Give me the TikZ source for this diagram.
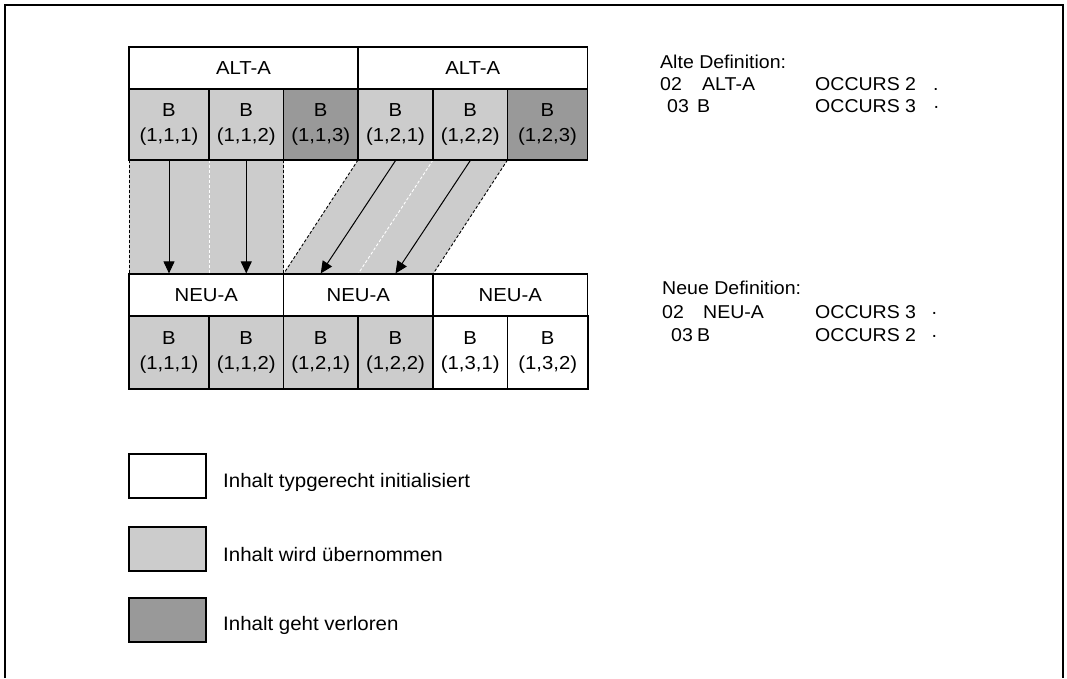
\documentclass[tikz,border=0pt]{standalone}
\usepackage{fontspec}
\setmainfont[FakeStretch=1.05]{Liberation Sans}
\newfontfamily\tabfont[FakeStretch=1.08]{Liberation Sans}
\usetikzlibrary{arrows.meta}
\definecolor{lgray}{HTML}{CCCCCC}
\definecolor{dgray}{HTML}{999999}
\begin{document}
\begin{tikzpicture}[x=1pt,y=-1pt,
  cell/.style={draw=black, line width=1.2pt, inner sep=0pt, align=center,
    font=\tabfont\fontsize{18.8}{24.4}\selectfont},
  hdr/.style={cell, fill=white},
  lcell/.style={cell, fill=lgray},
  dcell/.style={cell, fill=dgray},
  wcell/.style={cell, fill=white},
  edge/.style={densely dashed, line width=0.9pt},
  mv/.style={line width=1pt, -{Triangle[length=12pt,width=11pt]}},
  txt/.style={anchor=base west, inner sep=0pt, font=\fontsize{18.6}{22}\selectfont},
  legtxt/.style={txt, font=\fontsize{19.5}{22}\selectfont},
  legbox/.style={draw=black, line width=1.2pt, minimum width=77pt, minimum height=44pt, inner sep=0pt},
  frame/.style={line width=1.8pt}
]
\useasboundingbox (0,0) rectangle (1067,678);
\draw[frame] (5,678) -- (5,5) -- (1063,5) -- (1063,678);

% strips
\fill[lgray] (129,160) rectangle (283.5,274);
\fill[lgray] (358,160) -- (507.5,160) -- (433,274) -- (283.5,274) -- cycle;
\draw[edge] (129,160) -- (129,274);
\draw[edge, white] (209,160) -- (209,274);
\draw[edge] (283.5,160) -- (283.5,274);
\draw[edge] (358,160) -- (283.5,274);
\draw[edge, white] (433,160) -- (358,274);
\draw[edge] (507.5,160) -- (433,274);

% top table
\node[hdr, minimum width=229pt, minimum height=42pt] (a1) at (243.5,68) {ALT-A};
\node[hdr, minimum width=229.5pt, minimum height=42pt] (a2) at (472.75,68) {ALT-A};
\node[lcell, minimum width=80pt, minimum height=71pt] (t1) at (169,124.5) {B\\(1,1,1)};
\node[lcell, minimum width=74.5pt, minimum height=71pt] (t2) at (246.25,124.5) {B\\(1,1,2)};
\node[dcell, minimum width=74.5pt, minimum height=71pt] (t3) at (320.75,124.5) {B\\(1,1,3)};
\node[lcell, minimum width=75pt, minimum height=71pt] (t4) at (395.5,124.5) {B\\(1,2,1)};
\node[lcell, minimum width=74.5pt, minimum height=71pt] (t5) at (470.25,124.5) {B\\(1,2,2)};
\node[dcell, minimum width=80pt, minimum height=71pt] (t6) at (547.5,124.5) {B\\(1,2,3)};

% bottom table
\node[hdr, minimum width=154.5pt, minimum height=42pt] (n1) at (206.25,295) {NEU-A};
\node[hdr, minimum width=149.5pt, minimum height=42pt] (n2) at (358.25,295) {NEU-A};
\node[hdr, minimum width=154.5pt, minimum height=42pt] (n3) at (510.25,295) {NEU-A};
\node[lcell, minimum width=80pt, minimum height=73pt] (b1) at (169,352.5) {B\\(1,1,1)};
\node[lcell, minimum width=74.5pt, minimum height=73pt] (b2) at (246.25,352.5) {B\\(1,1,2)};
\node[lcell, minimum width=74.5pt, minimum height=73pt] (b3) at (320.75,352.5) {B\\(1,2,1)};
\node[lcell, minimum width=75pt, minimum height=73pt] (b4) at (395.5,352.5) {B\\(1,2,2)};
\node[wcell, minimum width=74.5pt, minimum height=73pt] (b5) at (470.25,352.5) {B\\(1,3,1)};
\node[wcell, minimum width=80.5pt, minimum height=73pt] (b6) at (547.75,352.5) {B\\(1,3,2)};

% arrows
\draw[mv] (t1.south) -- (t1.south |- n1.north);
\draw[mv] (t2.south) -- (t2.south |- n1.north);
\draw[mv] (t4.south) -- (b3.center |- n2.north);
\draw[mv] (t5.south) -- (b4.center |- n2.north);

% definitions
\node[txt] (alt) at (660,68) {Alte Definition:};
\node[txt] (alt02) at (660,90) {02};
\node[txt] (altA) at (702,90) {ALT-A};
\node[txt] (altO1) at (815,90) {OCCURS 2};
\node[txt] (altd1) at (933,90) {.};
\node[txt] (alt03) at (667,112) {03};
\node[txt] (altB) at (697,112) {B};
\node[txt] (altO2) at (815,112) {OCCURS 3};
\node[txt] (altd2) at (933,112) {·};

\node[txt] (neu) at (662,294) {Neue Definition:};
\node[txt] (neu02) at (662,318) {02};
\node[txt] (neuA) at (703,318) {NEU-A};
\node[txt] (neuO1) at (815,318) {OCCURS 3};
\node[txt] (neud1) at (931,318) {·};
\node[txt] (neu03) at (671,341) {03};
\node[txt] (neuB) at (697,341) {B};
\node[txt] (neuO2) at (815,341) {OCCURS 2};
\node[txt] (neud2) at (931,341) {·};

% legend
\node[legbox, fill=white] (l1) at (167.5,476) {};
\node[legbox, fill=lgray] (l2) at (167.5,549) {};
\node[legbox, fill=dgray] (l3) at (167.5,620) {};
\node[legtxt] (lt1) at (223,487.5) {Inhalt typgerecht initialisiert};
\node[legtxt] (lt2) at (223,561) {Inhalt wird übernommen};
\node[legtxt] (lt3) at (223,630) {Inhalt geht verloren};
\end{tikzpicture}
\end{document}
